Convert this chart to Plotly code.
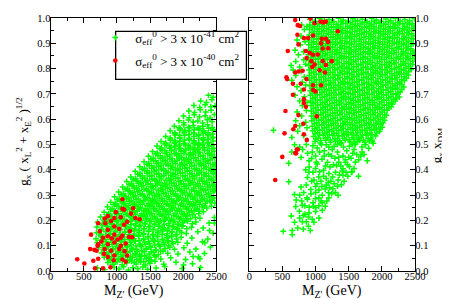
import plotly.graph_objects as go

# ---------------- data ----------------
# (M_Z' [GeV], coupling) pairs
green_left = [
(705,.012),(812,.006),(958,.015),(1030,.008),(1098,.017),(1172,.005),(1240,.013),(1315,.009),(1388,.016),(1462,.007),(1590,.012),(1720,.018),(1985,.010),(2260,.014),
(862,.034),(935,.027),(1002,.038),(1078,.025),(1146,.033),(1221,.040),(1289,.028),(1357,.036),(1430,.024),(1498,.031),(1572,.039),(1705,.027),(1890,.035),(2140,.029),
(808,.055),(880,.046),(947,.058),(1019,.049),(1090,.061),(1160,.045),(1233,.054),(1301,.047),(1374,.059),(1442,.050),(1515,.044),(1588,.057),(1660,.048),(1810,.053),(2035,.046),(2230,.056),
(768,.072),(842,.066),(913,.078),(981,.069),(1054,.075),(1125,.064),(1197,.079),(1268,.070),(1340,.066),(1409,.077),(1483,.068),(1551,.074),(1624,.065),(1695,.079),(1766,.071),(1920,.068),(2100,.076),(2320,.070),
(725,.094),(796,.086),(867,.097),(940,.088),(1011,.092),(1083,.085),(1155,.098),(1224,.090),(1297,.086),(1368,.096),(1440,.089),(1509,.093),(1582,.084),(1653,.097),(1725,.088),(1797,.094),(1868,.086),(2010,.092),(2190,.087),(2410,.095),
(702,.112),(771,.118),(846,.106),(918,.114),(990,.108),(1061,.117),(1131,.105),(1205,.113),(1276,.119),(1346,.107),(1418,.115),(1490,.109),(1561,.118),(1631,.106),(1704,.112),(1776,.119),(1846,.108),(1918,.114),(2060,.110),(2290,.116),
(684,.128),(757,.136),(827,.125),(899,.134),(971,.129),(1040,.137),(1112,.126),(1185,.133),(1255,.128),(1327,.138),(1398,.127),(1469,.135),(1540,.129),(1612,.136),(1683,.125),(1755,.132),(1826,.138),(1897,.127),(1969,.134),(2130,.131),(2370,.127),
(690,.152),(760,.146),(833,.157),(905,.148),(976,.155),(1046,.145),(1119,.153),(1190,.158),(1262,.147),(1333,.154),(1405,.149),(1476,.157),(1547,.146),(1618,.152),(1690,.158),(1761,.148),(1832,.155),(1903,.145),(1975,.153),(2046,.149),(2220,.156),(2450,.150),
(696,.174),(768,.166),(839,.177),(910,.169),(982,.173),(1053,.165),(1125,.178),(1196,.170),(1267,.166),(1338,.176),(1410,.168),(1481,.174),(1553,.165),(1624,.177),(1695,.171),(1767,.166),(1838,.175),(1910,.169),(1981,.178),(2052,.167),(2124,.173),(2300,.170),
(708,.193),(779,.186),(851,.197),(922,.188),(994,.195),(1065,.185),(1136,.192),(1208,.198),(1279,.187),(1350,.194),(1422,.189),(1493,.196),(1565,.186),(1636,.193),(1707,.199),(1779,.188),(1850,.195),(1921,.185),(1993,.192),(2064,.197),(2136,.187),(2190,.194),(2390,.190),
(752,.214),(824,.206),(896,.217),(967,.209),(1038,.213),(1110,.205),(1181,.218),(1253,.210),(1324,.206),(1395,.216),(1467,.208),(1538,.214),(1610,.205),(1681,.217),(1752,.211),(1824,.206),(1895,.215),(1967,.209),(2038,.218),(2109,.207),(2181,.213),(2252,.209),(2470,.212),
(805,.232),(876,.226),(948,.237),(1019,.228),(1090,.235),(1162,.225),(1233,.232),(1305,.238),(1376,.227),(1447,.234),(1519,.229),(1590,.236),(1662,.226),(1733,.233),(1804,.239),(1876,.228),(1947,.235),(2019,.225),(2090,.232),(2161,.237),(2233,.227),(2304,.234),
(856,.254),(927,.246),(999,.257),(1070,.249),(1141,.253),(1213,.245),(1284,.258),(1356,.250),(1427,.246),(1498,.256),(1570,.248),(1641,.254),(1713,.245),(1784,.257),(1855,.251),(1927,.246),(1998,.255),(2070,.249),(2141,.258),(2212,.247),(2284,.253),(2355,.249),(2426,.256),
(905,.272),(976,.266),(1048,.277),(1119,.268),(1191,.275),(1262,.265),(1333,.272),(1405,.278),(1476,.267),(1547,.274),(1619,.269),(1690,.276),(1762,.266),(1833,.273),(1904,.279),(1976,.268),(2047,.275),(2119,.265),(2190,.272),(2261,.277),(2333,.267),(2404,.274),(2475,.269),
(963,.294),(1034,.286),(1106,.297),(1177,.289),(1248,.293),(1320,.285),(1391,.298),(1463,.290),(1534,.286),(1605,.296),(1677,.288),(1748,.294),(1820,.285),(1891,.297),(1962,.291),(2034,.286),(2105,.295),(2177,.289),(2248,.298),(2319,.287),(2391,.293),(2462,.289),
(1024,.312),(1095,.306),(1167,.317),(1238,.309),(1309,.313),(1381,.305),(1452,.318),(1524,.310),(1595,.306),(1666,.316),(1738,.308),(1809,.314),(1881,.305),(1952,.317),(2023,.311),(2095,.306),(2166,.315),(2238,.309),(2309,.318),(2380,.307),(2452,.313),
(1085,.332),(1156,.326),(1228,.337),(1299,.328),(1370,.335),(1442,.325),(1513,.332),(1585,.338),(1656,.327),(1727,.334),(1799,.329),(1870,.336),(1942,.326),(2013,.333),(2084,.339),(2156,.328),(2227,.335),(2299,.325),(2370,.332),(2441,.337),(2490,.328),
(1146,.354),(1217,.346),(1289,.357),(1360,.349),(1431,.353),(1503,.345),(1574,.358),(1646,.350),(1717,.346),(1788,.356),(1860,.348),(1931,.354),(2003,.345),(2074,.357),(2145,.351),(2217,.346),(2288,.355),(2360,.349),(2431,.358),
(1207,.372),(1278,.366),(1350,.377),(1421,.368),(1492,.375),(1564,.365),(1635,.372),(1707,.378),(1778,.367),(1849,.374),(1921,.369),(1992,.376),(2064,.366),(2135,.373),(2206,.379),(2278,.368),(2349,.375),(2421,.365),(2488,.372),
(1275,.394),(1346,.386),(1418,.397),(1489,.389),(1560,.393),(1632,.385),(1703,.398),(1775,.390),(1846,.386),(1917,.396),(1989,.388),(2060,.394),(2132,.385),(2203,.397),(2274,.391),(2346,.386),(2417,.395),(2482,.389),
(1343,.412),(1414,.406),(1486,.417),(1557,.409),(1628,.413),(1700,.405),(1771,.418),(1843,.410),(1914,.406),(1985,.416),(2057,.408),(2128,.414),(2200,.405),(2271,.417),(2342,.411),(2414,.406),(2480,.415),
(1408,.432),(1479,.426),(1551,.437),(1622,.428),(1693,.435),(1765,.425),(1836,.432),(1908,.438),(1979,.427),(2050,.434),(2122,.429),(2193,.436),(2265,.426),(2336,.433),(2407,.439),(2478,.428),
(1474,.454),(1545,.446),(1617,.457),(1688,.449),(1759,.453),(1831,.445),(1902,.458),(1974,.450),(2045,.446),(2116,.456),(2188,.448),(2259,.454),(2331,.445),(2402,.457),(2473,.451),
(1536,.472),(1607,.466),(1679,.477),(1750,.468),(1821,.475),(1893,.465),(1964,.472),(2036,.478),(2107,.467),(2178,.474),(2250,.469),(2321,.476),(2393,.466),(2464,.473),
(1603,.494),(1674,.486),(1746,.497),(1817,.489),(1888,.493),(1960,.485),(2031,.498),(2103,.490),(2174,.486),(2245,.496),(2317,.488),(2388,.494),(2460,.485),
(1665,.512),(1736,.506),(1808,.517),(1879,.509),(1950,.513),(2022,.505),(2093,.518),(2165,.510),(2236,.506),(2307,.516),(2379,.508),(2450,.514),
(1734,.532),(1805,.526),(1877,.537),(1948,.528),(2019,.535),(2091,.525),(2162,.532),(2234,.538),(2305,.527),(2376,.534),(2448,.529),
(1803,.554),(1874,.546),(1946,.557),(2017,.549),(2088,.553),(2160,.545),(2231,.558),(2303,.550),(2374,.546),(2445,.556),
(1866,.572),(1937,.566),(2009,.577),(2080,.568),(2151,.575),(2223,.565),(2294,.572),(2366,.578),(2437,.567),
(1935,.594),(2006,.586),(2078,.597),(2149,.589),(2220,.593),(2292,.585),(2363,.598),(2435,.590),
(2003,.612),(2090,.606),(2165,.617),(2246,.609),(2330,.613),(2405,.605),(2470,.618),
(2085,.632),(2170,.626),(2255,.637),(2340,.628),(2420,.635),
(2160,.654),(2248,.646),(2330,.657),(2415,.649),(2478,.653),
(2262,.672),(2350,.666),(2432,.677),
(2380,.694),(2450,.686),
(2251,.049),(2149,.058),(2003,.024),(2397,.160),(2324,.112),(2470,.190),
]

# densest core of the left cloud (points between the rows above)
green_left_core = [
(905,.042),(978,.036),(1046,.045),(1121,.039),(1190,.043),(1262,.035),(1335,.044),(1404,.038),(1478,.041),
(850,.062),(918,.057),(995,.065),(1063,.058),(1138,.063),(1207,.056),(1279,.064),(1351,.059),(1420,.061),(1495,.055),(1565,.063),
(805,.082),(873,.076),(946,.085),(1018,.079),(1090,.083),(1158,.075),(1233,.084),(1303,.078),(1374,.081),(1446,.086),(1518,.077),(1590,.083),(1660,.079),
(785,.102),(857,.096),(927,.105),(1000,.098),(1070,.103),(1143,.095),(1212,.104),(1286,.099),(1356,.101),(1428,.106),(1500,.097),(1570,.103),(1643,.098),(1713,.105),(1780,.100),
(762,.122),(834,.116),(906,.125),(975,.118),(1049,.123),(1119,.115),(1190,.124),(1262,.119),(1333,.121),(1405,.126),(1476,.117),(1547,.123),(1618,.118),(1690,.125),(1762,.120),(1832,.116),
(752,.142),(823,.136),(893,.145),(967,.138),(1036,.143),(1110,.135),(1180,.144),(1252,.139),(1323,.141),(1394,.146),(1466,.137),(1537,.143),(1608,.138),(1680,.145),(1750,.140),(1822,.136),(1890,.144),
(762,.162),(832,.156),(905,.165),(976,.158),(1048,.163),(1118,.155),(1190,.164),(1261,.159),(1333,.161),(1403,.166),(1475,.157),(1546,.163),(1618,.158),(1688,.165),(1760,.160),(1830,.156),(1902,.164),(1945,.159),
(782,.182),(854,.176),(925,.185),(997,.178),(1068,.183),(1140,.175),(1211,.184),(1283,.179),(1354,.181),(1426,.186),(1497,.177),(1569,.183),(1640,.178),(1712,.185),(1783,.180),(1855,.176),(1926,.184),(1995,.179),
(800,.202),(872,.196),(943,.205),(1015,.198),(1086,.203),(1158,.195),(1229,.204),(1301,.199),(1372,.201),(1444,.206),(1515,.197),(1587,.203),(1658,.198),(1730,.205),(1801,.200),(1873,.196),(1944,.204),(2016,.199),(2050,.203),
(852,.222),(923,.216),(995,.225),(1066,.218),(1138,.223),(1209,.215),(1281,.224),(1352,.219),(1424,.221),(1495,.226),(1567,.217),(1638,.223),(1710,.218),(1781,.225),(1853,.220),(1924,.216),(1996,.224),(2067,.219),(2139,.223),
(905,.242),(976,.236),(1048,.245),(1119,.238),(1191,.243),(1262,.235),(1334,.244),(1405,.239),(1477,.241),(1548,.246),(1620,.237),(1691,.243),(1763,.238),(1834,.245),(1906,.240),(1977,.236),(2049,.244),(2120,.239),(2192,.243),(2245,.237),
(955,.262),(1026,.256),(1098,.265),(1169,.258),(1241,.263),(1312,.255),(1384,.264),(1455,.259),(1527,.261),(1598,.266),(1670,.257),(1741,.263),(1813,.258),(1884,.265),(1956,.260),(2027,.256),(2099,.264),(2170,.259),(2242,.263),(2313,.257),
(1002,.282),(1073,.276),(1145,.285),(1216,.278),(1288,.283),(1359,.275),(1431,.284),(1502,.279),(1574,.281),(1645,.286),(1717,.277),(1788,.283),(1860,.278),(1931,.285),(2003,.280),(2074,.276),(2146,.284),(2217,.279),(2289,.283),(2360,.277),(2432,.281),
(1062,.302),(1133,.296),(1205,.305),(1276,.298),(1348,.303),(1419,.295),(1491,.304),(1562,.299),(1634,.301),(1705,.306),(1777,.297),(1848,.303),(1920,.298),(1991,.305),(2063,.300),(2134,.296),(2206,.304),(2277,.299),(2349,.303),(2420,.297),
(1122,.322),(1193,.316),(1265,.325),(1336,.318),(1408,.323),(1479,.315),(1551,.324),(1622,.319),(1694,.321),(1765,.326),(1837,.317),(1908,.323),(1980,.318),(2051,.325),(2123,.320),(2194,.316),(2266,.324),(2337,.319),(2409,.323),(2470,.317),
(1182,.342),(1253,.336),(1325,.345),(1396,.338),(1468,.343),(1539,.335),(1611,.344),(1682,.339),(1754,.341),(1825,.346),(1897,.337),(1968,.343),(2040,.338),(2111,.345),(2183,.340),(2254,.336),(2326,.344),(2397,.339),(2465,.343),
(1242,.362),(1313,.356),(1385,.365),(1456,.358),(1528,.363),(1599,.355),(1671,.364),(1742,.359),(1814,.361),(1885,.366),(1957,.357),(2028,.363),(2100,.358),(2171,.365),(2243,.360),(2314,.356),(2386,.364),(2455,.359),
(1312,.382),(1383,.376),(1455,.385),(1526,.378),(1598,.383),(1669,.375),(1741,.384),(1812,.379),(1884,.381),(1955,.386),(2027,.377),(2098,.383),(2170,.378),(2241,.385),(2313,.380),(2384,.376),(2452,.384),
(1382,.402),(1453,.396),(1525,.405),(1596,.398),(1668,.403),(1739,.395),(1811,.404),(1882,.399),(1954,.401),(2025,.406),(2097,.397),(2168,.403),(2240,.398),(2311,.405),(2383,.400),(2450,.396),
(1452,.422),(1523,.416),(1595,.425),(1666,.418),(1738,.423),(1809,.415),(1881,.424),(1952,.419),(2024,.421),(2095,.426),(2167,.417),(2238,.423),(2310,.418),(2381,.425),(2448,.420),
(1512,.442),(1583,.436),(1655,.445),(1726,.438),(1798,.443),(1869,.435),(1941,.444),(2012,.439),(2084,.441),(2155,.446),(2227,.437),(2298,.443),(2370,.438),(2440,.445),
(1582,.462),(1653,.456),(1725,.465),(1796,.458),(1868,.463),(1939,.455),(2011,.464),(2082,.459),(2154,.461),(2225,.466),(2297,.457),(2368,.463),(2435,.458),
(1652,.482),(1723,.476),(1795,.485),(1866,.478),(1938,.483),(2009,.475),(2081,.484),(2152,.479),(2224,.481),(2295,.486),(2367,.477),(2430,.483),
(1722,.502),(1793,.496),(1865,.505),(1936,.498),(2008,.503),(2079,.495),(2151,.504),(2222,.499),(2294,.501),(2365,.506),(2430,.497),
(1802,.522),(1873,.516),(1945,.525),(2016,.518),(2088,.523),(2159,.515),(2231,.524),(2302,.519),(2374,.521),(2440,.526),
(1872,.542),(1943,.536),(2015,.545),(2086,.538),(2158,.543),(2229,.535),(2301,.544),(2372,.539),(2440,.541),
(1952,.562),(2023,.556),(2095,.565),(2166,.558),(2238,.563),(2309,.555),(2381,.564),(2450,.559),
]

red_left = [
(400,.047),(507,.030),(595,.087),(692,.081),(609,.144),(668,.011),(789,.011),(902,.015),
(716,.189),(741,.157),(814,.208),(863,.217),(960,.210),(1057,.213),(1082,.246),(1106,.243),
(1082,.284),(1243,.248),(1213,.227),(1277,.210),(1340,.205),(1155,.195),(1106,.183),(960,.176),
(863,.163),(789,.132),(863,.138),(960,.144),(1009,.125),(1082,.141),(1180,.135),(1131,.109),
(1057,.100),(960,.113),(863,.106),(765,.117),(706,.100),(658,.084),(814,.087),(911,.081),
(1033,.087),(1116,.079),(960,.062),(863,.056),(716,.049),(643,.041),(1082,.046),(1131,.037),
(1155,.062),(1228,.134),(1194,.157),(1033,.167),(911,.198),(984,.233),(823,.189),(716,.106),
(804,.068),(950,.043),(1057,.132),(921,.129),
]

green_right = [
# lower, sparse part
(512,.157),(648,.160),(648,.144),(814,.166),(682,.193),(892,.177),(755,.236),(633,.218),
(819,.220),(892,.214),(975,.193),(838,.258),(902,.252),(965,.256),(1048,.258),(1145,.256),
(707,.281),(789,.277),(877,.284),(999,.286),(1082,.277),(1170,.277),(1340,.300),(682,.303),
(780,.332),(926,.322),(999,.334),(1096,.334),(1145,.324),(1194,.309),(1243,.306),(1389,.341),
(594,.353),(877,.370),(975,.360),(1048,.372),(1160,.366),(1257,.372),(1340,.360),(1413,.379),
(1486,.375),(1647,.375),(902,.411),(1023,.423),(1121,.398),(1218,.411),(1316,.417),(1413,.404),
(1511,.413),(1550,.392),(594,.426),(780,.449),(902,.436),(999,.455),(1096,.442),(1194,.461),
(1291,.446),(1413,.455),(1535,.446),(1681,.455),(1779,.436),(682,.499),(804,.480),(1023,.486),
(1160,.499),(1277,.493),(1389,.506),(1511,.493),(1633,.512),(1754,.499),(1852,.512),
(1060,.392),(1180,.430),(1350,.430),(1450,.430),(1600,.430),(950,.470),(1130,.475),(1250,.480),
(1330,.470),(1470,.475),(1580,.480),(1700,.470),(1080,.355),(1300,.390),(1200,.385),(960,.390),
(850,.400),(1400,.395),(1500,.450),(1620,.460),(1060,.470),(880,.465),(1190,.350),(1280,.345),
(1000,.310),(1100,.300),(930,.305),(820,.310),(1050,.290),(1260,.325),(760,.300),(900,.230),
(1000,.235),(1100,.240),(800,.260),(950,.205),(700,.255),(860,.195),(730,.170),
(1130,.455),(1240,.455),(1350,.450),(1450,.440),(1560,.465),(1650,.440),(1730,.460),(940,.445),
(1010,.430),(1270,.420),(1380,.415),(1480,.420),(1580,.405),(1150,.415),(1000,.405),(900,.390),
(1120,.375),(1230,.355),(1330,.335),(1430,.355),(1540,.390),(1460,.390),(1360,.380),(1020,.345),
(940,.355),(860,.340),(1160,.340),(1210,.330),(1300,.310),(1050,.320),(870,.290),(960,.270),
(1100,.270),(1200,.290),(1000,.250),(840,.225),(1050,.210),(760,.210),(920,.160),(800,.195),
(1700,.490),(1800,.485),(1550,.500),(1420,.490),(1330,.500),(1200,.490),(1090,.500),(960,.495),
(860,.500),(760,.490),(640,.470),(1600,.500),
# upper, dense part
(990,.512),(1070,.506),(1150,.517),(1225,.509),(1300,.513),(1370,.505),(1445,.518),(1520,.510),(1590,.506),(1665,.516),(1740,.508),(1810,.514),(1870,.505),
(640,.528),(820,.535),(968,.532),(1040,.526),(1115,.537),(1183,.528),(1258,.535),(1330,.524),(1402,.533),(1470,.538),(1548,.527),(1615,.534),(1690,.529),(1762,.536),(1835,.526),(1905,.533),
(365,.556),(730,.552),(955,.554),(1030,.546),(1100,.557),(1172,.549),(1245,.553),(1318,.545),(1388,.558),(1460,.550),(1532,.546),(1605,.556),(1675,.548),(1748,.554),(1820,.545),(1890,.557),(1962,.551),
(760,.574),(870,.566),(950,.572),(1022,.566),(1094,.577),(1165,.568),(1237,.575),(1308,.565),(1380,.572),(1451,.578),(1523,.567),(1594,.574),(1666,.569),(1737,.576),(1809,.566),(1880,.573),(1952,.579),(2005,.568),
(700,.594),(850,.588),(944,.594),(1015,.586),(1087,.597),(1158,.589),(1230,.593),(1301,.585),(1373,.598),(1444,.590),(1516,.586),(1587,.596),(1659,.588),(1730,.594),(1802,.585),(1873,.597),(1945,.591),(2016,.586),
(790,.612),(938,.612),(1010,.606),(1081,.617),(1153,.609),(1224,.613),(1296,.605),(1367,.618),(1439,.610),(1510,.606),(1582,.616),(1653,.608),(1725,.614),(1796,.605),(1868,.617),(1939,.611),(2011,.606),(2070,.615),
(720,.628),(860,.634),(935,.632),(1006,.626),(1078,.637),(1149,.628),(1221,.635),(1292,.625),(1364,.632),(1435,.638),(1507,.627),(1578,.634),(1650,.629),(1721,.636),(1793,.626),(1864,.633),(1936,.639),(2007,.628),(2079,.635),
(800,.654),(930,.654),(1001,.646),(1073,.657),(1144,.649),(1216,.653),(1287,.645),(1359,.658),(1430,.650),(1502,.646),(1573,.656),(1645,.648),(1716,.654),(1788,.645),(1859,.657),(1931,.651),(2002,.646),(2074,.655),(2140,.649),
(760,.672),(870,.666),(926,.672),(997,.666),(1069,.677),(1140,.668),(1212,.675),(1283,.665),(1355,.672),(1426,.678),(1498,.667),(1569,.674),(1641,.669),(1712,.676),(1784,.666),(1855,.673),(1927,.679),(1998,.668),(2070,.675),(2141,.665),(2200,.672),
(690,.694),(830,.688),(922,.694),(993,.686),(1065,.697),(1136,.689),(1208,.693),(1279,.685),(1351,.698),(1422,.690),(1494,.686),(1565,.696),(1637,.688),(1708,.694),(1780,.685),(1851,.697),(1923,.691),(1994,.686),(2066,.695),(2137,.689),(2209,.698),(2262,.687),
(780,.712),(918,.712),(989,.706),(1061,.717),(1132,.709),(1204,.713),(1275,.705),(1347,.718),(1418,.710),(1490,.706),(1561,.716),(1633,.708),(1704,.714),(1776,.705),(1847,.717),(1919,.711),(1990,.706),(2062,.715),(2133,.709),(2205,.718),(2276,.707),
(720,.728),(850,.735),(914,.732),(985,.726),(1057,.737),(1128,.728),(1200,.735),(1271,.725),(1343,.732),(1414,.738),(1486,.727),(1557,.734),(1629,.729),(1700,.736),(1772,.726),(1843,.733),(1915,.739),(1986,.728),(2058,.735),(2129,.725),(2201,.732),(2272,.738),(2330,.727),
(640,.754),(800,.746),(910,.754),(981,.746),(1053,.757),(1124,.749),(1196,.753),(1267,.745),(1339,.758),(1410,.750),(1482,.746),(1553,.756),(1625,.748),(1696,.754),(1768,.745),(1839,.757),(1911,.751),(1982,.746),(2054,.755),(2125,.749),(2197,.758),(2268,.747),(2340,.753),
(700,.772),(830,.766),(906,.772),(977,.766),(1049,.777),(1120,.768),(1192,.775),(1263,.765),(1335,.772),(1406,.778),(1478,.767),(1549,.774),(1621,.769),(1692,.776),(1764,.766),(1835,.773),(1907,.779),(1978,.768),(2050,.775),(2121,.765),(2193,.772),(2264,.778),(2336,.767),(2400,.774),
(660,.794),(780,.788),(902,.794),(973,.786),(1045,.797),(1116,.789),(1188,.793),(1259,.785),(1331,.798),(1402,.790),(1474,.786),(1545,.796),(1617,.788),(1688,.794),(1760,.785),(1831,.797),(1903,.791),(1974,.786),(2046,.795),(2117,.789),(2189,.798),(2260,.787),(2332,.793),(2403,.788),(2440,.796),
(630,.812),(760,.806),(850,.817),(898,.812),(969,.806),(1041,.817),(1112,.809),(1184,.813),(1255,.805),(1327,.818),(1398,.810),(1470,.806),(1541,.816),(1613,.808),(1684,.814),(1756,.805),(1827,.817),(1899,.811),(1970,.806),(2042,.815),(2113,.809),(2185,.818),(2256,.807),(2328,.813),(2399,.808),(2465,.816),
(700,.828),(820,.834),(894,.832),(965,.826),(1037,.837),(1108,.828),(1180,.835),(1251,.825),(1323,.832),(1394,.838),(1466,.827),(1537,.834),(1609,.829),(1680,.836),(1752,.826),(1823,.833),(1895,.839),(1966,.828),(2038,.835),(2109,.825),(2181,.832),(2252,.838),(2324,.827),(2395,.834),(2467,.829),
(740,.854),(890,.854),(961,.846),(1033,.857),(1104,.849),(1176,.853),(1247,.845),(1319,.858),(1390,.850),(1462,.846),(1533,.856),(1605,.848),(1676,.854),(1748,.845),(1819,.857),(1891,.851),(1962,.846),(2034,.855),(2105,.849),(2177,.858),(2248,.847),(2320,.853),(2391,.848),(2463,.857),
(690,.872),(820,.866),(893,.872),(964,.866),(1036,.877),(1107,.868),(1179,.875),(1250,.865),(1322,.872),(1393,.878),(1465,.867),(1536,.874),(1608,.869),(1679,.876),(1751,.866),(1822,.873),(1894,.879),(1965,.868),(2037,.875),(2108,.865),(2180,.872),(2251,.878),(2323,.867),(2394,.874),(2466,.869),
(770,.894),(897,.894),(968,.886),(1040,.897),(1111,.889),(1183,.893),(1254,.885),(1326,.898),(1397,.890),(1469,.886),(1540,.896),(1612,.888),(1683,.894),(1755,.885),(1826,.897),(1898,.891),(1969,.886),(2041,.895),(2112,.889),(2184,.898),(2255,.887),(2327,.893),(2398,.888),(2470,.896),
(720,.912),(840,.906),(901,.912),(972,.906),(1044,.917),(1115,.909),(1187,.913),(1258,.905),(1330,.918),(1401,.910),(1473,.906),(1544,.916),(1616,.908),(1687,.914),(1759,.905),(1830,.917),(1902,.911),(1973,.906),(2045,.915),(2116,.909),(2188,.918),(2259,.907),(2331,.913),(2402,.908),(2474,.916),
(780,.928),(905,.932),(976,.926),(1048,.937),(1119,.928),(1191,.935),(1262,.925),(1334,.932),(1405,.938),(1477,.927),(1548,.934),(1620,.929),(1691,.936),(1763,.926),(1834,.933),(1906,.939),(1977,.928),(2049,.935),(2120,.925),(2192,.932),(2263,.938),(2335,.927),(2406,.934),(2478,.929),
(830,.954),(909,.954),(980,.946),(1052,.957),(1123,.949),(1195,.953),(1266,.945),(1338,.958),(1409,.950),(1481,.946),(1552,.956),(1624,.948),(1695,.954),(1767,.945),(1838,.957),(1910,.951),(1981,.946),(2053,.955),(2124,.949),(2196,.958),(2267,.947),(2339,.953),(2410,.948),(2482,.957),
(790,.972),(870,.966),(913,.972),(984,.966),(1056,.977),(1127,.968),(1199,.975),(1270,.965),(1342,.972),(1413,.978),(1485,.967),(1556,.974),(1628,.969),(1699,.976),(1771,.966),(1842,.973),(1914,.979),(1985,.968),(2057,.975),(2128,.965),(2200,.972),(2271,.978),(2343,.967),(2414,.974),(2486,.969),
(917,.994),(988,.986),(1060,.997),(1131,.989),(1203,.993),(1274,.985),(1346,.998),(1417,.990),(1489,.986),(1560,.996),(1632,.988),(1703,.994),(1775,.985),(1846,.997),(1918,.991),(1989,.986),(2061,.995),(2132,.989),(2204,.998),(2275,.987),(2347,.993),(2418,.988),(2490,.996),
]

# densest core of the right cloud (points between the rows above)
green_right_core = [
(1005,.522),(1077,.516),(1148,.525),(1220,.518),(1291,.523),(1363,.515),(1434,.524),(1506,.519),(1577,.521),(1649,.526),(1720,.517),(1792,.523),(1850,.518),
(992,.542),(1063,.536),(1135,.545),(1206,.538),(1278,.543),(1349,.535),(1421,.544),(1492,.539),(1564,.541),(1635,.546),(1707,.537),(1778,.543),(1850,.538),(1921,.545),
(988,.562),(1059,.556),(1131,.565),(1202,.558),(1274,.563),(1345,.555),(1417,.564),(1488,.559),(1560,.561),(1631,.566),(1703,.557),(1774,.563),(1846,.558),(1917,.565),(1975,.560),
(982,.582),(1053,.576),(1125,.585),(1196,.578),(1268,.583),(1339,.575),(1411,.584),(1482,.579),(1554,.581),(1625,.586),(1697,.577),(1768,.583),(1840,.578),(1911,.585),(1983,.580),
(976,.602),(1047,.596),(1119,.605),(1190,.598),(1262,.603),(1333,.595),(1405,.604),(1476,.599),(1548,.601),(1619,.606),(1691,.597),(1762,.603),(1834,.598),(1905,.605),(1977,.600),(2040,.596),
(972,.622),(1043,.616),(1115,.625),(1186,.618),(1258,.623),(1329,.615),(1401,.624),(1472,.619),(1544,.621),(1615,.626),(1687,.617),(1758,.623),(1830,.618),(1901,.625),(1973,.620),(2044,.616),
(966,.642),(1037,.636),(1109,.645),(1180,.638),(1252,.643),(1323,.635),(1395,.644),(1466,.639),(1538,.641),(1609,.646),(1681,.637),(1752,.643),(1824,.638),(1895,.645),(1967,.640),(2038,.636),(2105,.644),
(962,.662),(1033,.656),(1105,.665),(1176,.658),(1248,.663),(1319,.655),(1391,.664),(1462,.659),(1534,.661),(1605,.666),(1677,.657),(1748,.663),(1820,.658),(1891,.665),(1963,.660),(2034,.656),(2106,.664),(2160,.659),
(957,.682),(1028,.676),(1100,.685),(1171,.678),(1243,.683),(1314,.675),(1386,.684),(1457,.679),(1529,.681),(1600,.686),(1672,.677),(1743,.683),(1815,.678),(1886,.685),(1958,.680),(2029,.676),(2101,.684),(2172,.679),(2225,.683),
(953,.702),(1024,.696),(1096,.705),(1167,.698),(1239,.703),(1310,.695),(1382,.704),(1453,.699),(1525,.701),(1596,.706),(1668,.697),(1739,.703),(1811,.698),(1882,.705),(1954,.700),(2025,.696),(2097,.704),(2168,.699),(2240,.703),
(948,.722),(1019,.716),(1091,.725),(1162,.718),(1234,.723),(1305,.715),(1377,.724),(1448,.719),(1520,.721),(1591,.726),(1663,.717),(1734,.723),(1806,.718),(1877,.725),(1949,.720),(2020,.716),(2092,.724),(2163,.719),(2235,.723),(2300,.717),
(944,.742),(1015,.736),(1087,.745),(1158,.738),(1230,.743),(1301,.735),(1373,.744),(1444,.739),(1516,.741),(1587,.746),(1659,.737),(1730,.743),(1802,.738),(1873,.745),(1945,.740),(2016,.736),(2088,.744),(2159,.739),(2231,.743),(2302,.737),
(940,.762),(1011,.756),(1083,.765),(1154,.758),(1226,.763),(1297,.755),(1369,.764),(1440,.759),(1512,.761),(1583,.766),(1655,.757),(1726,.763),(1798,.758),(1869,.765),(1941,.760),(2012,.756),(2084,.764),(2155,.759),(2227,.763),(2298,.757),(2370,.761),
(936,.782),(1007,.776),(1079,.785),(1150,.778),(1222,.783),(1293,.775),(1365,.784),(1436,.779),(1508,.781),(1579,.786),(1651,.777),(1722,.783),(1794,.778),(1865,.785),(1937,.780),(2008,.776),(2080,.784),(2151,.779),(2223,.783),(2294,.777),(2366,.781),
(932,.802),(1003,.796),(1075,.805),(1146,.798),(1218,.803),(1289,.795),(1361,.804),(1432,.799),(1504,.801),(1575,.806),(1647,.797),(1718,.803),(1790,.798),(1861,.805),(1933,.800),(2004,.796),(2076,.804),(2147,.799),(2219,.803),(2290,.797),(2362,.801),(2433,.798),
(929,.822),(1000,.816),(1072,.825),(1143,.818),(1215,.823),(1286,.815),(1358,.824),(1429,.819),(1501,.821),(1572,.826),(1644,.817),(1715,.823),(1787,.818),(1858,.825),(1930,.820),(2001,.816),(2073,.824),(2144,.819),(2216,.823),(2287,.817),(2359,.821),(2430,.818),
(928,.842),(999,.836),(1071,.845),(1142,.838),(1214,.843),(1285,.835),(1357,.844),(1428,.839),(1500,.841),(1571,.846),(1643,.837),(1714,.843),(1786,.838),(1857,.845),(1929,.840),(2000,.836),(2072,.844),(2143,.839),(2215,.843),(2286,.837),(2358,.841),(2429,.838),(2495,.844),
(932,.862),(1003,.856),(1075,.865),(1146,.858),(1218,.863),(1289,.855),(1361,.864),(1432,.859),(1504,.861),(1575,.866),(1647,.857),(1718,.863),(1790,.858),(1861,.865),(1933,.860),(2004,.856),(2076,.864),(2147,.859),(2219,.863),(2290,.857),(2362,.861),(2433,.858),(2495,.864),
(936,.882),(1007,.876),(1079,.885),(1150,.878),(1222,.883),(1293,.875),(1365,.884),(1436,.879),(1508,.881),(1579,.886),(1651,.877),(1722,.883),(1794,.878),(1865,.885),(1937,.880),(2008,.876),(2080,.884),(2151,.879),(2223,.883),(2294,.877),(2366,.881),(2437,.878),
(940,.902),(1011,.896),(1083,.905),(1154,.898),(1226,.903),(1297,.895),(1369,.904),(1440,.899),(1512,.901),(1583,.906),(1655,.897),(1726,.903),(1798,.898),(1869,.905),(1941,.900),(2012,.896),(2084,.904),(2155,.899),(2227,.903),(2298,.897),(2370,.901),(2441,.898),
(944,.922),(1015,.916),(1087,.925),(1158,.918),(1230,.923),(1301,.915),(1373,.924),(1444,.919),(1516,.921),(1587,.926),(1659,.917),(1730,.923),(1802,.918),(1873,.925),(1945,.920),(2016,.916),(2088,.924),(2159,.919),(2231,.923),(2302,.917),(2374,.921),(2445,.918),
(948,.942),(1019,.936),(1091,.945),(1162,.938),(1234,.943),(1305,.935),(1377,.944),(1448,.939),(1520,.941),(1591,.946),(1663,.937),(1734,.943),(1806,.938),(1877,.945),(1949,.940),(2020,.936),(2092,.944),(2163,.939),(2235,.943),(2306,.937),(2378,.941),(2449,.938),
(952,.962),(1023,.956),(1095,.965),(1166,.958),(1238,.963),(1309,.955),(1381,.964),(1452,.959),(1524,.961),(1595,.966),(1667,.957),(1738,.963),(1810,.958),(1881,.965),(1953,.960),(2024,.956),(2096,.964),(2167,.959),(2239,.963),(2310,.957),(2382,.961),(2453,.958),
(956,.982),(1027,.976),(1099,.985),(1170,.978),(1242,.983),(1313,.975),(1385,.984),(1456,.979),(1528,.981),(1599,.986),(1671,.977),(1742,.983),(1814,.978),(1885,.985),(1957,.980),(2028,.976),(2100,.984),(2171,.979),(2243,.983),(2314,.977),(2386,.981),(2457,.978),
]

red_right = [
(692,.991),(731,.971),(765,.968),(921,.997),(984,.979),(1072,.985),(1116,.982),(1155,.985),
(1335,.947),(726,.933),(741,.895),(823,.920),(887,.920),(962,.930),(1092,.917),(1155,.917),
(1189,.905),(1082,.899),(1107,.879),(1189,.880),(580,.869),(853,.869),(911,.861),(960,.854),
(1033,.855),(863,.841),(936,.829),(984,.816),(1107,.829),(1155,.814),(1243,.829),(692,.784),
(741,.788),(804,.791),(950,.806),(1060,.793),(1140,.784),(560,.765),(570,.758),(863,.758),
(775,.740),(960,.734),(1082,.734),(658,.740),(823,.717),(962,.715),(999,.709),(658,.696),
(823,.679),(823,.664),(853,.649),(545,.632),(741,.616),(1019,.611),(814,.582),(692,.573),
(663,.560),(531,.544),(823,.540),(716,.480),(692,.466),(497,.451),(390,.360),(706,.465),
(731,.480),(867,.518),
]

x_ticks = [0, 500, 1000, 1500, 2000, 2500]
y_ticks = [0.0, 0.1, 0.2, 0.3, 0.4, 0.5, 0.6, 0.7, 0.8, 0.9, 1.0]

# ---------------- styling ----------------
FONT = "Liberation Serif"
GREEN = "#00ff00"
RED = "#ff0000"
LEG_GREEN = "σ<sub>eff</sub><sup>0</sup> > 3 x 10<sup>-41</sup> cm<sup>2</sup>"
LEG_RED = "σ<sub>eff</sub><sup>0</sup> > 3 x 10<sup>-40</sup> cm<sup>2</sup>"


def col(pts, i):
    return [p[i] for p in pts]


gl = green_left + green_left_core
gr = green_right + green_right_core

green_marker = dict(symbol="cross-thin", size=4.2, color=GREEN, line=dict(width=1.5, color=GREEN))
red_marker = dict(symbol="circle", size=4.6, color=RED, line=dict(width=0))

fig = go.Figure()
fig.add_trace(go.Scatter(x=col(gl, 0), y=col(gl, 1), mode="markers", legendgroup="g",
                         name=LEG_GREEN, marker=green_marker, xaxis="x", yaxis="y"))
fig.add_trace(go.Scatter(x=col(red_left, 0), y=col(red_left, 1), mode="markers", legendgroup="r",
                         name=LEG_RED, marker=red_marker, xaxis="x", yaxis="y"))
fig.add_trace(go.Scatter(x=col(gr, 0), y=col(gr, 1), mode="markers",
                         showlegend=False, marker=green_marker, xaxis="x2", yaxis="y2"))
fig.add_trace(go.Scatter(x=col(red_right, 0), y=col(red_right, 1), mode="markers",
                         showlegend=False, marker=red_marker, xaxis="x2", yaxis="y2"))

tickfont = dict(family=FONT, size=10.5, color="black")
titlefont = dict(family=FONT, size=14, color="black")

common = dict(ticks="inside", ticklen=5, tickwidth=1, tickcolor="black",
              showline=True, linecolor="black", linewidth=1.3, mirror="ticks",
              showgrid=False, zeroline=False, tickfont=tickfont, ticklabeloverflow="allow")

xcommon = dict(common, range=[0, 2500], tickmode="array", tickvals=x_ticks,
               ticktext=[str(v) for v in x_ticks], ticklabelstandoff=-5,
               minor=dict(ticks="inside", ticklen=3, tickcolor="black", dtick=250, tick0=0, showgrid=False))
ycommon = dict(common, range=[0, 1], tickmode="array", tickvals=y_ticks,
               ticktext=[f"{v:.1f}" for v in y_ticks],
               minor=dict(ticks="inside", ticklen=3, tickcolor="black", dtick=0.05, tick0=0, showgrid=False))

W, H = 450, 299
y0, y1 = 1 - 268 / H, 1 - 5 / H

# legend frame (white box drawn in reference position)
shapes = [
    dict(type="rect", xref="paper", yref="paper", layer="above",
         x0=108 / W, x1=243 / W, y0=1 - 69 / H, y1=1 - 19 / H,
         fillcolor="white", line=dict(color="black", width=1.3)),
]

annotations = [
    dict(text="M<sub>Z'</sub> (GeV)", xref="paper", yref="paper", x=126.5 / W, y=1 - 289 / H,
         showarrow=False, xanchor="center", yanchor="middle", font=titlefont),
    dict(text="M<sub>Z'</sub> (GeV)", xref="paper", yref="paper", x=331.5 / W, y=1 - 289 / H,
         showarrow=False, xanchor="center", yanchor="middle", font=titlefont),
    dict(text="g<sub>x</sub> ( x<sub>L</sub><sup>2</sup> + x<sub>E</sub><sup>2</sup> )<sup>1/2</sup>",
         xref="paper", yref="paper", x=13 / W, y=1 - 133 / H, textangle=-90,
         showarrow=False, xanchor="center", yanchor="middle", font=dict(titlefont, size=13)),
    dict(text="g<sub>x</sub> x<sub>DM</sub>", xref="paper", yref="paper", x=441 / W, y=1 - 138 / H,
         textangle=-90, showarrow=False, xanchor="center", yanchor="middle", font=dict(titlefont, size=13)),
]

fig.update_layout(
    width=W, height=H,
    margin=dict(l=0, r=0, t=0, b=0),
    paper_bgcolor="white", plot_bgcolor="white",
    xaxis=dict(xcommon, domain=[41 / W, 212 / W], anchor="y"),
    xaxis2=dict(xcommon, domain=[246 / W, 417 / W], anchor="y2"),
    yaxis=dict(ycommon, domain=[y0, y1], anchor="x", ticklabelstandoff=-3),
    yaxis2=dict(ycommon, domain=[y0, y1], anchor="x2", side="right", ticklabelstandoff=-3),
    legend=dict(x=87 / W, y=1 - 10 / H, xanchor="left", yanchor="top",
                bgcolor="rgba(0,0,0,0)", borderwidth=0,
                font=dict(family=FONT, size=13, color="black"),
                tracegroupgap=3, itemwidth=30),
    shapes=shapes,
    annotations=annotations,
    showlegend=True,
)

fig.write_html("out.html")
